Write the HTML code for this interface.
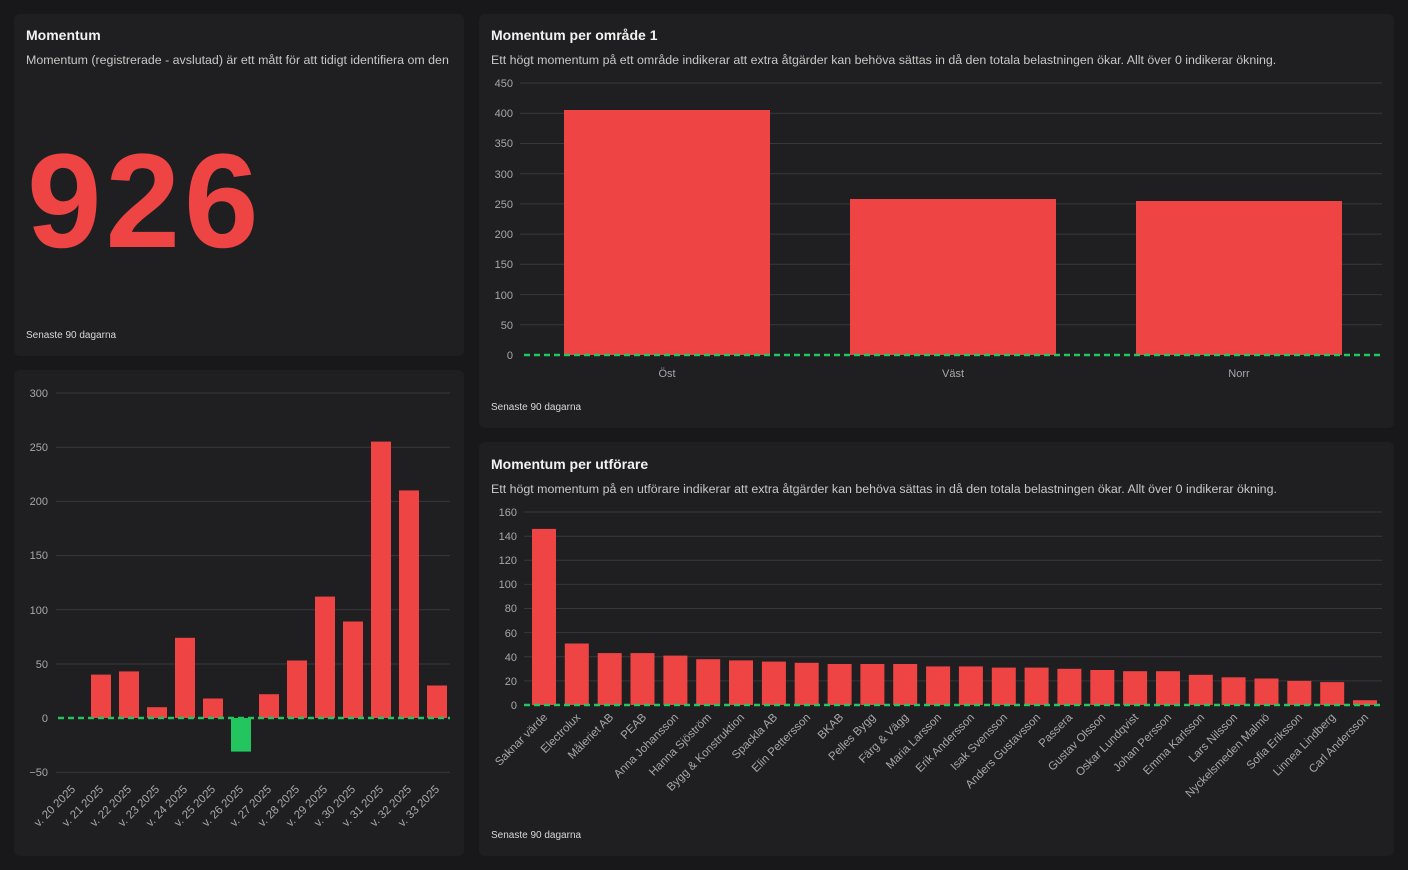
<!DOCTYPE html>
<html><head><meta charset="utf-8"><style>
body{margin:0;width:1408px;height:870px;background:#18181a;font-family:"Liberation Sans",sans-serif;overflow:hidden;position:relative}
.card{position:absolute;background:#1f1f21;border-radius:6px}
.t{position:absolute;color:#f2f2f2;font-weight:bold;font-size:14px}
.s{position:absolute;color:#c8c8c8;font-size:12.4px;white-space:nowrap}
.f{position:absolute;color:#d8d8d8;font-size:10px}
svg{position:absolute;left:0;top:0}
</style></head><body>
<div class="card" style="left:14px;top:14px;width:450px;height:342px"></div>
<div class="card" style="left:14px;top:370px;width:450px;height:486px"></div>
<div class="card" style="left:479px;top:14px;width:915px;height:414px"></div>
<div class="card" style="left:479px;top:442px;width:915px;height:414px"></div>
<div class="t" style="left:26px;top:27px">Momentum</div>
<div class="s" style="left:26px;top:53px;width:426px;overflow:hidden">Momentum (registrerade - avslutad) är ett mått för att tidigt identifiera om den</div>
<div style="position:absolute;left:27px;top:135px;color:#ef4444;font-weight:bold;font-size:134px;line-height:134px;letter-spacing:4px">926</div>
<div class="f" style="left:26px;top:330px">Senaste 90 dagarna</div>
<div class="t" style="left:491px;top:27px">Momentum per område 1</div>
<div class="s" style="left:491px;top:53px">Ett högt momentum på ett område indikerar att extra åtgärder kan behöva sättas in då den totala belastningen ökar. Allt över 0 indikerar ökning.</div>
<div class="f" style="left:491px;top:402px">Senaste 90 dagarna</div>
<div class="t" style="left:491px;top:456px">Momentum per utförare</div>
<div class="s" style="left:491px;top:482px">Ett högt momentum på en utförare indikerar att extra åtgärder kan behöva sättas in då den totala belastningen ökar. Allt över 0 indikerar ökning.</div>
<div class="f" style="left:491px;top:830px">Senaste 90 dagarna</div>
<svg width="1408" height="870" font-family="Liberation Sans, sans-serif" font-size="11" fill="#a8a8a8">
<g stroke="#38383b" stroke-width="1">
<line x1="56" x2="450" y1="393" y2="393"/><line x1="56" x2="450" y1="447.2" y2="447.2"/><line x1="56" x2="450" y1="501.4" y2="501.4"/><line x1="56" x2="450" y1="555.6" y2="555.6"/><line x1="56" x2="450" y1="609.8" y2="609.8"/><line x1="56" x2="450" y1="664" y2="664"/><line x1="56" x2="450" y1="772.2" y2="772.2"/>
<line x1="520" x2="1382" y1="83" y2="83"/><line x1="520" x2="1382" y1="113.2" y2="113.2"/><line x1="520" x2="1382" y1="143.5" y2="143.5"/><line x1="520" x2="1382" y1="173.7" y2="173.7"/><line x1="520" x2="1382" y1="203.9" y2="203.9"/><line x1="520" x2="1382" y1="234.1" y2="234.1"/><line x1="520" x2="1382" y1="264.3" y2="264.3"/><line x1="520" x2="1382" y1="294.6" y2="294.6"/><line x1="520" x2="1382" y1="324.8" y2="324.8"/>
<line x1="524" x2="1382" y1="512" y2="512"/><line x1="524" x2="1382" y1="536.2" y2="536.2"/><line x1="524" x2="1382" y1="560.3" y2="560.3"/><line x1="524" x2="1382" y1="584.4" y2="584.4"/><line x1="524" x2="1382" y1="608.5" y2="608.5"/><line x1="524" x2="1382" y1="632.6" y2="632.6"/><line x1="524" x2="1382" y1="656.8" y2="656.8"/><line x1="524" x2="1382" y1="680.9" y2="680.9"/>
</g>
<g text-anchor="end">
<text x="48" y="397">300</text><text x="48" y="451">250</text><text x="48" y="505">200</text><text x="48" y="559">150</text><text x="48" y="614">100</text><text x="48" y="668">50</text><text x="48" y="722">0</text><text x="48" y="776">−50</text>
<text x="513" y="87">450</text><text x="513" y="117">400</text><text x="513" y="147">350</text><text x="513" y="178">300</text><text x="513" y="208">250</text><text x="513" y="238">200</text><text x="513" y="268">150</text><text x="513" y="299">100</text><text x="513" y="329">50</text><text x="513" y="359">0</text>
<text x="517" y="516">160</text><text x="517" y="540">140</text><text x="517" y="564">120</text><text x="517" y="588">100</text><text x="517" y="612">80</text><text x="517" y="637">60</text><text x="517" y="661">40</text><text x="517" y="685">20</text><text x="517" y="709">0</text>
</g>
<g fill="#ef4444">
<rect x="91" y="674.6" width="20" height="43.4"/><rect x="119" y="671.4" width="20" height="46.6"/><rect x="147" y="707.2" width="20" height="10.8"/><rect x="175" y="637.8" width="20" height="80.2"/><rect x="203" y="698.5" width="20" height="19.5"/><rect x="259" y="694.2" width="20" height="23.8"/><rect x="287" y="660.5" width="20" height="57.5"/><rect x="315" y="596.6" width="20" height="121.4"/><rect x="343" y="621.5" width="20" height="96.5"/><rect x="371" y="441.6" width="20" height="276.4"/><rect x="399" y="490.4" width="20" height="227.6"/><rect x="427" y="685.5" width="20" height="32.5"/>
<rect x="564" y="110" width="206" height="245"/><rect x="850" y="199" width="206" height="156"/><rect x="1136" y="201" width="206" height="154"/>
<rect x="532" y="528.9" width="24" height="176.1"/><rect x="564.8" y="643.5" width="24" height="61.5"/><rect x="597.7" y="653.1" width="24" height="51.9"/><rect x="630.5" y="653.1" width="24" height="51.9"/><rect x="663.4" y="655.6" width="24" height="49.4"/><rect x="696.2" y="659.2" width="24" height="45.8"/><rect x="729" y="660.4" width="24" height="44.6"/><rect x="761.9" y="661.6" width="24" height="43.4"/><rect x="794.7" y="662.8" width="24" height="42.2"/><rect x="827.6" y="664" width="24" height="41"/><rect x="860.4" y="664" width="24" height="41"/><rect x="893.2" y="664" width="24" height="41"/><rect x="926.1" y="666.4" width="24" height="38.6"/><rect x="958.9" y="666.4" width="24" height="38.6"/><rect x="991.8" y="667.6" width="24" height="37.4"/><rect x="1024.6" y="667.6" width="24" height="37.4"/><rect x="1057.4" y="668.8" width="24" height="36.2"/><rect x="1090.3" y="670" width="24" height="35"/><rect x="1123.1" y="671.2" width="24" height="33.8"/><rect x="1156" y="671.2" width="24" height="33.8"/><rect x="1188.8" y="674.8" width="24" height="30.2"/><rect x="1221.6" y="677.3" width="24" height="27.7"/><rect x="1254.5" y="678.5" width="24" height="26.5"/><rect x="1287.3" y="680.9" width="24" height="24.1"/><rect x="1320.2" y="682.1" width="24" height="22.9"/><rect x="1353" y="700.2" width="24" height="4.8"/>
</g>
<rect x="231" y="718" width="20" height="33.6" fill="#22c55e"/>
<g stroke="#22c55e" stroke-width="2.5" stroke-dasharray="6,4">
<line x1="58" x2="450" y1="718" y2="718"/><line x1="524" x2="1382" y1="355" y2="355"/><line x1="524" x2="1382" y1="705" y2="705"/>
</g>
<g text-anchor="middle"><text x="667" y="377">Öst</text><text x="953" y="377">Väst</text><text x="1239" y="377">Norr</text></g>
<g text-anchor="end" font-size="11.5">
<text transform="translate(76,790) rotate(-45)">v. 20 2025</text><text transform="translate(104,790) rotate(-45)">v. 21 2025</text><text transform="translate(132,790) rotate(-45)">v. 22 2025</text><text transform="translate(160,790) rotate(-45)">v. 23 2025</text><text transform="translate(188,790) rotate(-45)">v. 24 2025</text><text transform="translate(216,790) rotate(-45)">v. 25 2025</text><text transform="translate(244,790) rotate(-45)">v. 26 2025</text><text transform="translate(272,790) rotate(-45)">v. 27 2025</text><text transform="translate(300,790) rotate(-45)">v. 28 2025</text><text transform="translate(328,790) rotate(-45)">v. 29 2025</text><text transform="translate(356,790) rotate(-45)">v. 30 2025</text><text transform="translate(384,790) rotate(-45)">v. 31 2025</text><text transform="translate(412,790) rotate(-45)">v. 32 2025</text><text transform="translate(440,790) rotate(-45)">v. 33 2025</text>
<text transform="translate(548,718) rotate(-45)">Saknar värde</text><text transform="translate(581,718) rotate(-45)">Electrolux</text><text transform="translate(614,718) rotate(-45)">Måleriet AB</text><text transform="translate(647,718) rotate(-45)">PEAB</text><text transform="translate(679,718) rotate(-45)">Anna Johansson</text><text transform="translate(712,718) rotate(-45)">Hanna Sjöström</text><text transform="translate(745,718) rotate(-45)">Bygg &amp; Konstruktion</text><text transform="translate(778,718) rotate(-45)">Spackla AB</text><text transform="translate(811,718) rotate(-45)">Elin Pettersson</text><text transform="translate(844,718) rotate(-45)">BKAB</text><text transform="translate(876,718) rotate(-45)">Pelles Bygg</text><text transform="translate(909,718) rotate(-45)">Färg &amp; Vägg</text><text transform="translate(942,718) rotate(-45)">Maria Larsson</text><text transform="translate(975,718) rotate(-45)">Erik Andersson</text><text transform="translate(1008,718) rotate(-45)">Isak Svensson</text><text transform="translate(1041,718) rotate(-45)">Anders Gustavsson</text><text transform="translate(1073,718) rotate(-45)">Passera</text><text transform="translate(1106,718) rotate(-45)">Gustav Olsson</text><text transform="translate(1139,718) rotate(-45)">Oskar Lundqvist</text><text transform="translate(1172,718) rotate(-45)">Johan Persson</text><text transform="translate(1205,718) rotate(-45)">Emma Karlsson</text><text transform="translate(1238,718) rotate(-45)">Lars Nilsson</text><text transform="translate(1270,718) rotate(-45)">Nyckelsmeden Malmö</text><text transform="translate(1303,718) rotate(-45)">Sofia Eriksson</text><text transform="translate(1336,718) rotate(-45)">Linnea Lindberg</text><text transform="translate(1369,718) rotate(-45)">Carl Andersson</text>
</g>
</svg>
</body></html>
